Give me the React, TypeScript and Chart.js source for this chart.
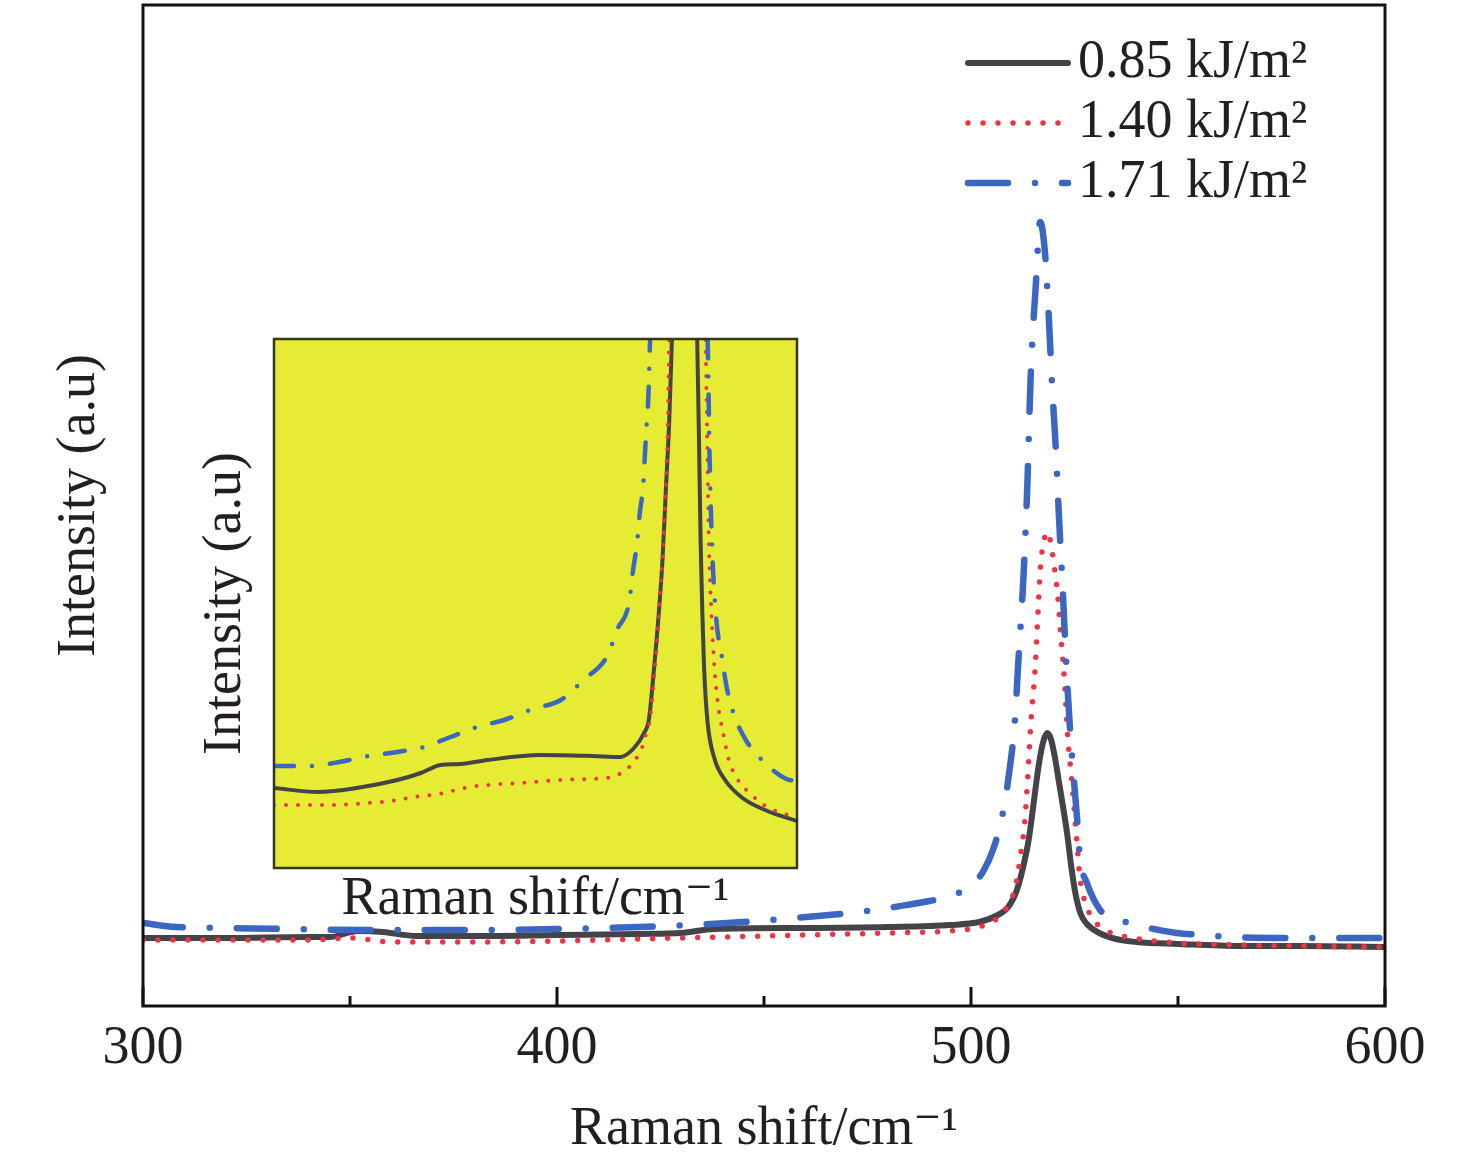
import React, { useEffect, useRef } from "react";
import Chart from "chart.js/auto";

const FONT = "'Liberation Serif', 'Times New Roman', 'DejaVu Serif', serif";
const TEXT = "#231f20";
const BLACK = "#444448";
const RED = "#ec3447";
const BLUE = "#3b67c2";
const YELLOW = "#e5ec33";

// legend labels
const seriesLabels = ["0.85 kJ/m\u00B2", "1.40 kJ/m\u00B2", "1.71 kJ/m\u00B2"];
const xTitle = "Raman shift/cm\u207B\u00B9";
const yTitle = "Intensity (a.u)";

// x axis tick values
const xTickLabels = [300, 400, 500, 600];
const xMinorTicks = [350, 450, 550];

// main plot, 0.85 kJ/m2
const shift085 = [300, 320, 340, 345, 352, 358, 366, 380, 400, 420, 430, 438, 460, 480, 495, 502, 506, 509, 511, 512.6, 514, 515.2, 516.4, 517.5, 518.4, 519.3, 520.3, 521.2, 522.2, 523.2, 524.2, 525.2, 526.5, 528, 531, 535, 540, 550, 565, 580, 600];
const int085 = [68, 68, 69, 69, 75, 74, 70, 70, 71, 72, 73, 77, 78, 79, 81, 84, 90, 99, 115, 139, 168, 205, 242, 265, 273, 267, 248, 225, 200, 173, 140, 113, 92, 82, 73, 67, 64, 62, 60, 60, 59];

// main plot, 1.40 kJ/m2
const shift140 = [300, 320, 340, 350, 360, 380, 400, 420, 440, 460, 480, 495, 501, 505, 507.5, 509.5, 510.8, 511.8, 513, 513.8, 514.5, 515.5, 516.2, 516.8, 517.6, 518.5, 519.4, 520.2, 520.9, 521.7, 522.6, 523.4, 524.4, 525.6, 526.3, 528, 531.2, 535, 539, 550, 565, 580, 600];
const int140 = [66, 66, 66, 68, 64, 64, 65, 67, 69, 71, 73, 75, 78, 84, 92, 105, 120, 146, 185, 235, 285, 338, 395, 440, 465, 474, 460, 437, 413, 370, 324, 268, 223, 163, 129, 99, 79, 72, 68, 63, 61, 60, 59];

// main plot, 1.71 kJ/m2
const shift171 = [300, 308, 320, 335, 355, 380, 400, 420, 441, 463, 475, 484.5, 490, 495.5, 499, 501.4, 503, 505.3, 507.5, 509.4, 510.6, 511.4, 512.7, 513.6, 514.4, 515.7, 516.7, 517.9, 518.8, 519.6, 520.5, 521.3, 522.2, 523, 523.9, 524.6, 525.6, 526.3, 528, 531.2, 534, 538.4, 543, 549.7, 556, 563, 580, 600];
const int171 = [83, 79, 78, 77, 76, 76, 77, 79, 83, 90, 95, 101, 105, 110, 118, 126, 135, 156, 189, 239, 285, 342, 431, 520, 628, 724, 784, 752, 688, 620, 556, 485, 413, 342, 278, 239, 189, 149, 123, 96, 88, 83, 78, 73, 71, 69, 68, 68];

// inset (magnified baseline)
const insetShift085 = [425, 435, 444, 453.3, 458.7, 463.2, 467.8, 474, 486, 498, 504.5, 507.6, 509.9, 511, 511.9, 512.9, 514.1, 514.9, 515.7, 516.3, 517.5, 519.2, 521, 522.1, 522.5, 522.9, 523.3, 523.7, 524.5, 526.1, 528.5, 532.5, 538.2, 545];
const insetInt085 = [80, 76, 80, 88, 95, 103, 104, 108, 113, 112, 111, 120, 135, 148, 185, 234, 305, 377, 449, 529, 700, 780, 700, 529, 431, 323, 252, 198, 145, 109, 88, 70, 57, 47];

const insetShift140 = [425, 438, 446.4, 451.8, 457.1, 462.9, 468.6, 473.9, 482, 490.4, 501.1, 503.8, 506, 507.9, 509.5, 510.3, 511.3, 512.2, 513.3, 514.5, 515.3, 515.7, 517, 518.8, 520.8, 524, 524.4, 524.8, 525.4, 526.1, 526.9, 528.1, 529.3, 531.3, 534.9, 537.4, 542.2, 545];
const insetInt140 = [63, 63, 65, 67, 71, 74, 80, 83, 85, 88, 90, 93, 99, 108, 121, 133, 150, 190, 252, 341, 431, 529, 700, 760, 700, 529, 430, 323, 252, 198, 163, 134, 109, 89, 72, 63, 54, 52];

const insetShift171 = [425, 433, 440, 446.8, 453.3, 459.4, 465.5, 471.6, 477.8, 484.4, 490.8, 496, 501.6, 503.7, 506.5, 507.3, 508.3, 508.9, 509.7, 510.1, 510.5, 510.9, 511.3, 513, 517, 521, 524.5, 524.9, 525.5, 526.5, 527.7, 528.9, 530.5, 533.4, 537.4, 542.6, 545];
const insetInt171 = [102, 102, 106, 112, 116, 121, 131, 141, 148, 159, 168, 188, 213, 238, 266, 295, 325, 354, 382, 413, 443, 472, 529, 700, 800, 700, 529, 420, 323, 248, 213, 180, 154, 127, 106, 89, 87];

const toPoints = (xs: number[], ys: number[]) => xs.map((x, i) => ({ x, y: ys[i] }));

const font = { family: FONT, size: 54 };

// box round the plot area
const framePlugin = (id: string, color: string, width: number) => ({
  id,
  afterDatasetsDraw(chart: any) {
    const { ctx, chartArea: a } = chart;
    ctx.save();
    ctx.strokeStyle = color;
    ctx.lineWidth = width;
    ctx.strokeRect(a.left, a.top, a.right - a.left, a.bottom - a.top);
    ctx.restore();
  },
});

// inward tick marks on the x axis
const tickMarks = {
  id: "tickMarks",
  afterDraw(chart: any) {
    const { ctx, chartArea, scales } = chart;
    ctx.save();
    ctx.strokeStyle = "#111";
    ctx.lineWidth = 3;
    const mark = (v: number, len: number) => {
      const px = scales.x.getPixelForValue(v);
      ctx.beginPath();
      ctx.moveTo(px, chartArea.bottom);
      ctx.lineTo(px, chartArea.bottom - len);
      ctx.stroke();
    };
    xTickLabels.forEach((v) => mark(v, 19));
    xMinorTicks.forEach((v) => mark(v, 10));
    ctx.restore();
  },
};

// legend in the top right corner of the plot
const insideLegend = {
  id: "insideLegend",
  afterDraw(chart: any) {
    const { ctx } = chart;
    chart.data.datasets.forEach((ds: any, i: number) => {
      const y = 63 + i * 60;
      ctx.save();
      ctx.strokeStyle = ds.borderColor;
      ctx.lineWidth = ds.borderWidth;
      ctx.lineCap = ds.borderCapStyle || "round";
      ctx.setLineDash(ds.borderDash || []);
      ctx.beginPath();
      ctx.moveTo(968, y);
      ctx.lineTo(1068, y);
      ctx.stroke();
      ctx.setLineDash([]);
      ctx.fillStyle = TEXT;
      ctx.font = `54px ${FONT}`;
      ctx.textBaseline = "middle";
      ctx.textAlign = "left";
      ctx.fillText(ds.label, 1078, y);
      ctx.restore();
    });
  },
};

const insetBackground = {
  id: "insetBackground",
  beforeDatasetsDraw(chart: any) {
    const { ctx, chartArea: a } = chart;
    ctx.save();
    ctx.fillStyle = YELLOW;
    ctx.fillRect(a.left, a.top, a.right - a.left, a.bottom - a.top);
    ctx.restore();
  },
};

const lineBase = {
  pointRadius: 0,
  cubicInterpolationMode: "monotone" as const,
  fill: false,
};

const App: React.FC = () => {
  const mainRef = useRef<HTMLCanvasElement>(null!);
  const insetRef = useRef<HTMLCanvasElement>(null!);

  useEffect(() => {
    const mainChart = new Chart(mainRef.current, {
      type: "line",
      data: {
        datasets: [
          { ...lineBase, label: seriesLabels[0], data: toPoints(shift085, int085), borderColor: BLACK, borderWidth: 6, borderCapStyle: "round", order: 2 },
          { ...lineBase, label: seriesLabels[1], data: toPoints(shift140, int140), borderColor: RED, borderWidth: 5.5, borderDash: [0, 15], borderCapStyle: "round", order: 1 },
          { ...lineBase, label: seriesLabels[2], data: toPoints(shift171, int171), borderColor: BLUE, borderWidth: 6.5, borderDash: [40, 27, 0, 27], borderCapStyle: "round", order: 0 },
        ],
      },
      options: {
        animation: false,
        responsive: false,
        maintainAspectRatio: false,
        layout: { padding: { top: 5, right: 91, left: 0, bottom: 0 } },
        plugins: { legend: { display: false }, tooltip: { enabled: false } },
        scales: {
          x: {
            type: "linear",
            min: 300,
            max: 600,
            afterBuildTicks: (s: any) => {
              s.ticks = xTickLabels.map((v) => ({ value: v }));
            },
            ticks: { font, color: TEXT, padding: 10.6, maxRotation: 0 },
            grid: { display: false, drawTicks: false },
            border: { display: false },
            title: { display: true, text: xTitle, font, color: TEXT, padding: { top: 0, bottom: 4 } },
            afterFit: (s: any) => {
              s.height = 160;
            },
          },
          y: {
            min: 0,
            max: 1001,
            ticks: { display: false },
            grid: { display: false, drawTicks: false },
            border: { display: false },
            title: { display: true, text: yTitle, font, color: TEXT, padding: { top: 47, bottom: 0 } },
            afterFit: (s: any) => {
              s.width = 143;
            },
          },
        },
      },
      plugins: [framePlugin("mainFrame", "#111", 3), tickMarks, insideLegend],
    });

    const insetChart = new Chart(insetRef.current, {
      type: "line",
      data: {
        datasets: [
          { ...lineBase, label: seriesLabels[0], data: toPoints(insetShift085, insetInt085), borderColor: BLACK, borderWidth: 4, borderCapStyle: "round", clip: 0, order: 2 },
          { ...lineBase, label: seriesLabels[1], data: toPoints(insetShift140, insetInt140), borderColor: RED, borderWidth: 4, borderDash: [0, 12], borderCapStyle: "round", clip: 0, order: 1 },
          { ...lineBase, label: seriesLabels[2], data: toPoints(insetShift171, insetInt171), borderColor: BLUE, borderWidth: 4.5, borderDash: [20, 18, 0, 18], borderCapStyle: "round", clip: 0, order: 0 },
        ],
      },
      options: {
        animation: false,
        responsive: false,
        maintainAspectRatio: false,
        layout: { padding: { top: 9, right: 13, left: 0, bottom: 0 } },
        plugins: { legend: { display: false }, tooltip: { enabled: false } },
        scales: {
          x: {
            type: "linear",
            min: 425,
            max: 545,
            ticks: { display: false },
            grid: { display: false, drawTicks: false },
            border: { display: false },
            title: { display: true, text: xTitle, font, color: TEXT, padding: { top: 0, bottom: 7.6 } },
            afterFit: (s: any) => {
              s.height = 72;
            },
          },
          y: {
            min: 0,
            max: 529,
            ticks: { display: false },
            grid: { display: false, drawTicks: false },
            border: { display: false },
            title: { display: true, text: yTitle, font, color: TEXT, padding: { top: 13.6, bottom: 0 } },
            afterFit: (s: any) => {
              s.width = 94;
            },
          },
        },
      },
      plugins: [insetBackground, framePlugin("insetFrame", "#35351f", 2.5)],
    });

    return () => {
      mainChart.destroy();
      insetChart.destroy();
    };
  }, []);

  return (
    <div style={{ position: "absolute", left: 0, top: 0, width: 1476, height: 1166, background: "#fff" }}>
      <canvas ref={mainRef} width={1476} height={1166} style={{ position: "absolute", left: 0, top: 0, width: 1476, height: 1166 }} />
      <canvas ref={insetRef} width={630} height={610} style={{ position: "absolute", left: 180, top: 330, width: 630, height: 610 }} />
    </div>
  );
};

export default App;
